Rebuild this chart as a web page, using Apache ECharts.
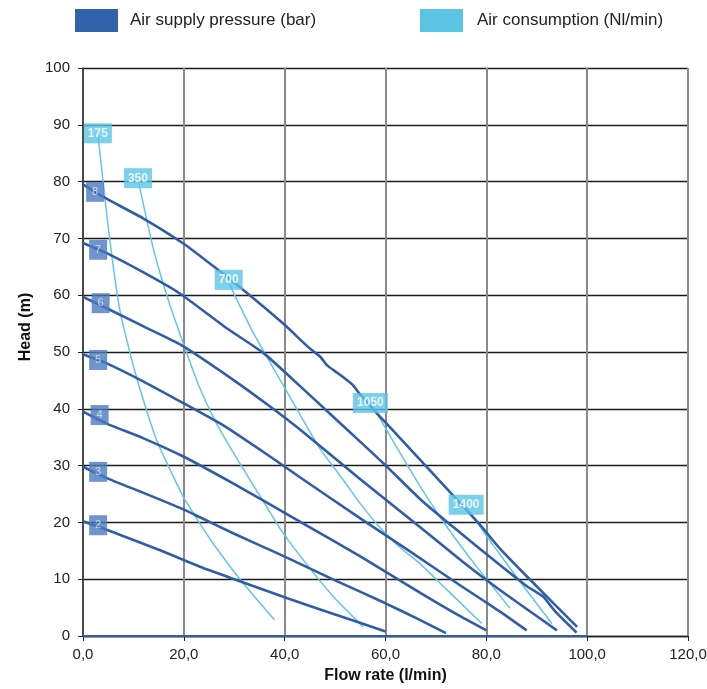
<!DOCTYPE html>
<html>
<head>
<meta charset="utf-8">
<script src="https://cdn.jsdelivr.net/npm/echarts@6/dist/echarts.min.js"></script>
<style>
html,body{margin:0;padding:0;background:#fff;}
#chart{width:707px;height:689px;}
</style>
</head>
<body>
<div id="chart"></div>
<script>
// ---- Data ----
const seriesPressureName = 'Air supply pressure (bar)';
const seriesAirName = 'Air consumption (Nl/min)';

const p8 = [[0,79.5],[4,77.3],[12,73.5],[19.9,69.1],[26,65],[31.8,60.9],[39.7,55],[45,50.6],[47,49.2],[48.5,47.6],[50.5,46.3],[52,45.3],[53.5,44.2],[55,42.5],[58.3,39.2],[59.9,37.7],[70,28],[78.8,19.5],[82.7,15.4],[88.7,9.9],[98,1.6]];
const p7 = [[0,69.2],[4.7,67.4],[12,64],[19.2,60.3],[28,54.5],[35.8,49.8],[41.7,45.1],[50,38.3],[59.6,30.4],[67,24],[74.1,18.7],[82.7,12.5],[88,8.8],[91.3,6.9],[92.5,5.6],[93.7,4.3],[97.9,0.6]];
const p6 = [[0,59.7],[5.4,57.4],[12,54.5],[19.5,51.2],[29.8,45.1],[37.1,40.4],[43.1,36.3],[55,27.6],[67.5,18.7],[75,13.3],[82.7,8.1],[94,1.0]];
const p5 = [[0,49.6],[4.7,48],[12,44.8],[19.9,41],[28,37],[37.1,31.6],[43.1,27.9],[55,20.7],[65,14.8],[75,8.8],[82.7,4.3],[88,1.0]];
const p4 = [[0,39.5],[4.7,37.4],[12,34.8],[19.9,31.6],[29.5,27],[37,23.2],[43.7,19.8],[55,14],[66.9,7.6],[74,3.9],[80,1.0]];
const p3 = [[0,29.8],[4.7,27.8],[12,25.2],[19.9,22.3],[23.2,20.9],[30,18],[39.7,14.1],[50,9.8],[59.9,5.8],[66.9,2.8],[72,0.5]];
const p2 = [[0,20.2],[4.7,18.7],[15.3,15.1],[23.2,12.2],[30,10],[39.7,6.9],[50,3.8],[60,0.8]];
const baseLine = [[0,0],[100,0]];

const a175 = [[3,88],[5,72],[7.3,57.4],[10.6,45.6],[14.6,34.5],[19.9,24.5],[23.2,19.8],[26.2,15.8],[31.2,9.9],[38,2.8]];
const a350 = [[11,80],[14,68],[16.9,59.2],[19.9,51.5],[23,44],[26.5,37.4],[30,32],[33.1,27.5],[36.4,22.8],[39.7,18.1],[45,11.9],[50,6.6],[55.6,1.6]];
const a700 = [[29,62],[34,53],[39.1,45.1],[43.1,38.9],[47,33],[51.6,27.5],[55,23.3],[59.3,18.7],[63,15.5],[66.9,12.7],[72,8.3],[79.1,2.2]];
const a1050 = [[57,41],[58.3,39.2],[62.5,32.8],[66.9,26.3],[72.2,19.2],[78,12.3],[84.7,4.9]];
const a1400 = [[76,23],[77.4,21],[82,15.2],[87,9.2],[93,2.2]];

const pressureLabelText = ['8','7','6','5','4','3','2'];
const pressureLabelX = [2.4,3.0,3.5,3.0,3.3,3.0,3.0];
const pressureLabelY = [78.2,68.0,58.6,48.6,38.9,28.9,19.5];

const airLabelText = ['175','350','700','1050','1400'];
const airLabelX = [2.95,10.9,28.9,57.0,76.0];
const airLabelY = [88.5,80.6,62.7,41.0,23.1];

const xTickLabels = ['0,0','20,0','40,0','60,0','80,0','100,0','120,0'];

// ---- Styles ----
const DARK = '#2F5DA9';
const LIGHT = '#62C6E8';
const FONT = "'Liberation Sans', Arial, sans-serif";

function pLine(data){
  return {name: seriesPressureName, type:'line', data, showSymbol:false, smooth:0.2,
    lineStyle:{color:DARK,width:2.6}, itemStyle:{color:DARK}, z:3, silent:true};
}
function aLine(data){
  return {name: seriesAirName, type:'line', data, showSymbol:false, smooth:0.2,
    lineStyle:{color:LIGHT,width:1.5}, itemStyle:{color:LIGHT}, z:2, silent:true};
}

const series = [
  aLine(a175), aLine(a350), aLine(a700), aLine(a1050), aLine(a1400),
  pLine(p8), pLine(p7), pLine(p6), pLine(p5), pLine(p4), pLine(p3), pLine(p2),
  Object.assign(pLine(baseLine), {clip:false, lineStyle:{color:DARK,width:2.2}}),
  {
    name: seriesPressureName, type:'scatter', symbol:'rect', symbolSize:[18,20], z:10, silent:true,
    itemStyle:{color:'#4A7CBF'},
    data: pressureLabelText.map((t,i)=>({value:[pressureLabelX[i],pressureLabelY[i]], name:t})),
    label:{show:true, position:'inside', formatter:p=>p.name, color:'#E6E6E6', fontSize:11, fontFamily:FONT}
  },
  {
    name: seriesAirName, type:'scatter', symbol:'rect', z:10, silent:true,
    symbolSize:(v,p)=>[p.name.length*7+7,20],
    itemStyle:{color:'#5BC4E5'},
    data: airLabelText.map((t,i)=>({value:[airLabelX[i],airLabelY[i]], name:t})),
    label:{show:true, position:'inside', formatter:p=>p.name, color:'#FFFFFF', fontSize:12, fontWeight:'bold', fontFamily:FONT}
  }
];

const chart = echarts.init(document.getElementById('chart'), null, {renderer:'canvas'});
chart.setOption({
  animation:false,
  backgroundColor:'#fff',
  textStyle:{fontFamily:FONT},
  legend:[
    {left:75, top:9, padding:0, itemWidth:43, itemHeight:23, selectedMode:false,
     data:[{name:seriesPressureName, icon:'rect', itemStyle:{color:'#3162AC'}}],
     textStyle:{fontSize:17, color:'#222', fontFamily:FONT, padding:[0,0,0,7]}},
    {left:420, top:9, padding:0, itemWidth:43, itemHeight:23, selectedMode:false,
     data:[{name:seriesAirName, icon:'rect', itemStyle:{color:'#5BC4E5'}}],
     textStyle:{fontSize:17, color:'#222', fontFamily:FONT, padding:[0,0,0,9]}}
  ],
  grid:{left:83, right:19, top:68, bottom:53, containLabel:false, outerBoundsMode:'none'},
  xAxis:{
    type:'value', min:0, max:120, interval:20,
    name:'Flow rate (l/min)', nameLocation:'middle', nameGap:32,
    nameTextStyle:{fontSize:16, fontWeight:'bold', color:'#111', fontFamily:FONT},
    axisLine:{show:true, lineStyle:{color:'#222', width:1.3}},
    axisTick:{show:true, length:5, lineStyle:{color:'#222'}},
    axisLabel:{fontSize:15, color:'#222', margin:11, fontFamily:FONT,
      formatter:(v)=> xTickLabels[Math.round(v/20)]},
    splitLine:{show:true, lineStyle:{color:'#8A8A8A', width:2}}
  },
  yAxis:{
    type:'value', min:0, max:100, interval:10,
    name:'Head (m)', nameLocation:'middle', nameGap:48, nameRotate:90,
    nameTextStyle:{fontSize:16, fontWeight:'bold', color:'#111', fontFamily:FONT, padding:[0,0,0,50]},
    axisLine:{show:true, lineStyle:{color:'#333', width:1.5}},
    axisTick:{show:true, length:5, lineStyle:{color:'#222'}},
    axisLabel:{fontSize:15, color:'#222', margin:13, fontFamily:FONT},
    splitLine:{show:true, lineStyle:{color:'#1A1A1A', width:1.3}}
  },
  series
});
</script>
</body>
</html>
